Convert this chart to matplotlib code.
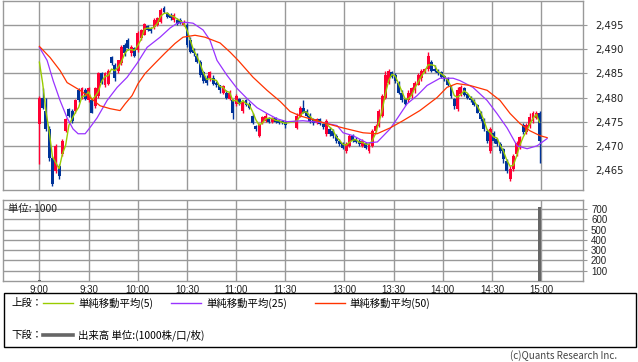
import numpy as np
import pandas as pd
import matplotlib
matplotlib.use("Agg")
import matplotlib.pyplot as plt
from matplotlib.patches import Rectangle

plt.rcParams['font.family'] = ['DejaVu Sans']

# ---------------- data ----------------
prev_closes = [2491.0, 2491.0]

am_open = [2474.6, 2480.0, 2477.3, 2473.5, 2467.5, 2464.8, 2465.8, 2468.3, 2473.1, 2477.7,
           2477.3, 2477.3, 2481.5, 2480.0, 2481.5, 2479.4, 2479.4, 2478.3, 2480.4, 2485.0,
           2482.5, 2482.9, 2488.3, 2486.7, 2485.6, 2487.1, 2490.8, 2491.9, 2489.2, 2490.2,
           2489.8, 2492.3, 2492.9, 2494.8, 2494.2, 2494.6, 2495.0, 2495.6, 2498.5, 2497.5,
           2497.1, 2496.0, 2496.0, 2496.0, 2495.0, 2495.0, 2491.9, 2489.8, 2488.7, 2487.3,
           2485.2, 2484.0, 2484.0, 2484.0, 2483.1, 2482.5, 2481.0, 2481.0, 2479.8, 2479.4,
           2478.7, 2479.8, 2477.3, 2479.4, 2478.7, 2476.2, 2474.2, 2472.1, 2474.8, 2475.2,
           2475.8, 2475.0, 2475.8, 2475.4, 2475.2, 2475.0]
am_close = [2480.0, 2477.9, 2473.5, 2467.5, 2462.1, 2470.0, 2463.7, 2471.0, 2475.6, 2476.2,
            2475.2, 2479.4, 2479.4, 2481.9, 2479.8, 2481.9, 2476.9, 2481.9, 2485.0, 2483.1,
            2485.0, 2485.6, 2487.1, 2484.0, 2487.7, 2490.4, 2489.2, 2490.2, 2490.4, 2488.7,
            2493.3, 2494.0, 2495.2, 2494.0, 2493.7, 2496.0, 2496.5, 2498.1, 2497.7, 2496.7,
            2496.5, 2497.1, 2495.2, 2495.4, 2495.6, 2490.8, 2489.4, 2489.2, 2487.3, 2484.6,
            2483.5, 2483.1, 2485.2, 2482.9, 2482.5, 2481.5, 2482.3, 2480.0, 2481.0, 2476.9,
            2480.4, 2478.7, 2479.0, 2478.5, 2477.9, 2474.8, 2473.5, 2474.6, 2476.0, 2476.2,
            2475.0, 2475.8, 2475.0, 2474.8, 2474.8, 2474.4]
am_high = [2480.4, 2481.9, 2480.0, 2474.2, 2467.9, 2470.4, 2466.2, 2471.5, 2475.8, 2477.9,
           2477.7, 2479.8, 2481.9, 2482.1, 2481.9, 2482.1, 2479.8, 2482.1, 2485.2, 2485.2,
           2485.2, 2486.0, 2488.7, 2487.1, 2487.7, 2490.8, 2491.2, 2492.3, 2490.8, 2490.4,
           2493.7, 2494.2, 2495.4, 2495.0, 2494.6, 2496.5, 2496.7, 2498.5, 2499.0, 2497.7,
           2497.5, 2497.5, 2496.5, 2496.5, 2496.0, 2495.4, 2492.5, 2490.2, 2489.2, 2487.7,
           2485.6, 2484.6, 2485.6, 2484.6, 2483.5, 2482.7, 2482.5, 2481.5, 2481.5, 2479.8,
           2480.8, 2480.0, 2479.4, 2479.8, 2479.0, 2476.7, 2474.4, 2474.8, 2476.2, 2476.7,
           2476.0, 2476.0, 2476.0, 2475.6, 2475.4, 2475.2]
am_low = [2466.2, 2477.7, 2473.1, 2466.9, 2461.7, 2464.4, 2463.1, 2467.9, 2472.9, 2476.0,
          2474.8, 2476.9, 2479.0, 2479.8, 2479.4, 2479.0, 2476.7, 2477.9, 2480.0, 2482.9,
          2482.1, 2482.5, 2486.7, 2483.5, 2485.0, 2486.7, 2488.7, 2489.8, 2488.7, 2488.3,
          2489.4, 2491.9, 2492.9, 2493.7, 2493.3, 2494.2, 2494.8, 2495.4, 2497.5, 2496.5,
          2496.0, 2495.6, 2495.0, 2495.2, 2494.8, 2490.4, 2489.2, 2488.7, 2487.1, 2484.2,
          2483.1, 2482.7, 2483.5, 2482.5, 2482.1, 2481.0, 2480.8, 2479.8, 2479.4, 2475.6,
          2478.3, 2478.5, 2476.9, 2478.3, 2477.7, 2474.6, 2473.1, 2471.9, 2474.6, 2475.0,
          2474.8, 2474.8, 2474.8, 2474.6, 2474.6, 2473.7]

pm_open = [2473.7, 2476.2, 2477.9, 2477.3, 2476.2, 2475.6, 2474.8, 2475.6, 2474.6, 2472.5,
           2473.5, 2473.1, 2472.1, 2471.0, 2470.6, 2469.0, 2470.0, 2472.1, 2471.5, 2471.0,
           2470.0, 2470.6, 2469.0, 2470.0, 2473.1, 2474.2, 2476.2, 2480.0, 2483.1, 2485.2,
           2484.6, 2483.1, 2481.0, 2479.8, 2479.4, 2480.4, 2481.5, 2482.7, 2484.0, 2485.2,
           2486.0, 2487.3, 2486.0, 2485.6, 2485.2, 2484.4, 2484.0, 2482.5, 2479.8, 2477.7,
           2480.8, 2481.9, 2480.8, 2480.0, 2479.4, 2478.5, 2476.9, 2475.6, 2473.1, 2469.0,
           2472.7, 2471.5, 2470.4, 2469.4, 2466.9, 2463.1, 2465.2, 2468.3, 2469.8, 2474.4,
           2472.9, 2474.2, 2475.2, 2475.8, 2476.7]
pm_close = [2476.2, 2477.9, 2476.9, 2476.2, 2475.2, 2474.8, 2475.6, 2474.6, 2474.0, 2475.2,
            2472.5, 2472.1, 2471.0, 2470.4, 2469.6, 2470.4, 2472.1, 2471.0, 2470.8, 2470.4,
            2471.0, 2469.6, 2470.4, 2473.1, 2474.2, 2477.3, 2480.4, 2484.6, 2485.6, 2484.2,
            2483.5, 2481.0, 2479.4, 2478.7, 2481.0, 2481.9, 2483.1, 2484.6, 2485.6, 2486.0,
            2488.7, 2485.6, 2485.6, 2485.0, 2484.2, 2484.0, 2482.5, 2480.4, 2478.3, 2481.5,
            2482.1, 2480.6, 2480.0, 2479.4, 2478.5, 2476.9, 2475.6, 2473.5, 2471.0, 2473.5,
            2471.0, 2470.4, 2469.0, 2467.3, 2464.8, 2465.2, 2467.9, 2470.6, 2471.9, 2472.9,
            2474.4, 2476.0, 2476.7, 2476.9, 2471.0]
pm_high = [2476.7, 2478.3, 2479.4, 2477.7, 2476.7, 2475.8, 2475.8, 2475.8, 2474.8, 2475.6,
           2474.0, 2473.5, 2472.5, 2471.5, 2470.8, 2470.8, 2472.5, 2472.5, 2471.9, 2471.5,
           2471.5, 2470.8, 2470.8, 2473.5, 2474.6, 2477.7, 2480.8, 2485.6, 2486.0, 2485.6,
           2485.0, 2483.5, 2481.5, 2480.0, 2481.5, 2482.1, 2483.5, 2485.0, 2486.0, 2486.2,
           2489.4, 2487.7, 2486.7, 2486.0, 2485.6, 2484.6, 2484.2, 2482.7, 2480.0, 2482.1,
           2482.5, 2482.1, 2481.0, 2480.4, 2479.8, 2478.7, 2477.3, 2475.8, 2473.5, 2474.0,
           2473.1, 2471.7, 2470.8, 2469.6, 2467.3, 2465.8, 2468.3, 2471.0, 2472.1, 2474.8,
           2474.8, 2476.7, 2477.3, 2477.3, 2477.3]
pm_low = [2473.5, 2476.0, 2476.7, 2476.0, 2474.8, 2474.4, 2474.6, 2474.4, 2473.5, 2472.1,
          2472.1, 2471.7, 2470.6, 2470.0, 2469.4, 2468.5, 2469.8, 2470.8, 2470.6, 2470.0,
          2469.8, 2469.4, 2468.5, 2469.8, 2472.9, 2474.0, 2476.0, 2479.8, 2482.9, 2484.0,
          2483.1, 2480.8, 2479.0, 2478.5, 2479.0, 2480.0, 2481.0, 2482.5, 2483.5, 2485.0,
          2485.6, 2485.2, 2485.2, 2484.6, 2484.0, 2483.5, 2482.3, 2480.0, 2477.7, 2477.3,
          2480.4, 2480.4, 2479.8, 2479.0, 2478.3, 2476.7, 2475.2, 2473.1, 2470.6, 2468.5,
          2470.6, 2470.0, 2468.5, 2466.5, 2464.4, 2462.7, 2464.8, 2467.9, 2469.4, 2472.5,
          2472.5, 2473.7, 2474.8, 2475.6, 2466.5]

# session time axis (minutes on a continuous trading-time scale, 9:00 = 0)
am_minutes = list(range(0, 151, 2))
pm_minutes = list(range(157, 306, 2))

# moving averages
ma25_t = [0, 4.7, 8.4, 12.6, 16.9, 20.5, 23.6, 27.9, 30.9, 35.2, 41.3, 47.4, 53.5, 59.6, 65.7,
          73.6, 79.7, 84.0, 88.8, 93.7, 99.8, 104.0, 108.3, 114.4, 120.5, 126.6, 132.7, 138.8,
          144.9, 151.0, 160.7, 172.9, 181.5, 185.2, 191.3, 199.8, 206.1, 213.8, 218.1, 224.2,
          230.3, 236.4, 244.3, 252.3, 256.5, 264.4, 273.0, 279.0, 285.2, 291.3, 297.4, 303.5, 309.6]
ma25_v = [2490.4, 2487.7, 2483.5, 2479.4, 2475.8, 2473.5, 2472.5, 2472.5, 2473.8, 2475.8,
          2479.4, 2482.1, 2484.2, 2487.1, 2490.4, 2492.5, 2494.4, 2495.4, 2495.6, 2495.4,
          2494.0, 2491.9, 2487.7, 2484.6, 2481.9, 2479.8, 2477.9, 2476.7, 2475.6, 2475.0,
          2475.2, 2474.8, 2474.2, 2472.7, 2472.1, 2470.6, 2470.8, 2473.5, 2475.6, 2478.7,
          2480.4, 2482.5, 2484.0, 2484.0, 2483.5, 2482.1, 2479.4, 2476.7, 2473.7, 2470.0,
          2469.4, 2470.0, 2471.5]
ma50_t = [0, 6.5, 12.6, 16.9, 24.8, 30.9, 37.0, 43.1, 49.2, 52.3, 56.5, 60.2, 64.5, 70.5, 76.6,
          82.7, 87.6, 94.9, 101.0, 110.2, 116.3, 121.2, 130.3, 138.8, 146.8, 152.9, 159.0,
          173.0, 185.2, 197.4, 205.9, 213.8, 221.7, 232.0, 242.5, 248.5, 254.6, 262.6, 273.0,
          280.9, 287.0, 293.1, 299.2, 305.3, 309.6]
ma50_v = [2490.6, 2488.3, 2485.6, 2483.1, 2481.5, 2480.0, 2478.3, 2477.7, 2477.3, 2478.7,
          2480.4, 2482.9, 2485.0, 2487.1, 2489.2, 2491.2, 2492.5, 2492.9, 2492.5, 2491.3,
          2489.4, 2487.7, 2484.2, 2481.5, 2479.2, 2477.1, 2476.2, 2474.8, 2473.7, 2472.7,
          2472.5, 2473.7, 2475.2, 2477.3, 2480.0, 2482.1, 2482.9, 2482.5, 2481.5, 2479.4,
          2476.7, 2474.6, 2473.1, 2472.1, 2471.7]

vol_minutes = [0, 305]
vol_values = [10, 720]

tick_minutes = [0, 30, 60, 90, 120, 150, 186, 216, 246, 276, 306]
tick_labels = ["9:00", "9:30", "10:00", "10:30", "11:00", "11:30",
               "13:00", "13:30", "14:00", "14:30", "15:00"]
price_ticks = [2465, 2470, 2475, 2480, 2485, 2490, 2495]
vol_ticks = [100, 200, 300, 400, 500, 600, 700]

legend_labels = ["単純移動平均(5)", "単純移動平均(25)", "単純移動平均(50)"]

# ---------------- styling ----------------
UP = '#FF0033'
DOWN = '#003399'
C_MA5 = '#99CC00'
C_MA25 = '#9933FF'
C_MA50 = '#FF3300'
GRID = '#999999'
CJK = ['Noto Sans CJK JP', 'DejaVu Sans']

W, H = 638, 362
fig = plt.figure(figsize=(W / 100, H / 100), dpi=100)


def rect(l, t, r, b):
    return [l / W, 1 - b / H, (r - l) / W, (b - t) / H]


ax = fig.add_axes(rect(3.3, 0.5, 582.7, 190))
axv = fig.add_axes(rect(3.3, 200, 582.7, 281))

df = pd.DataFrame({
    't': am_minutes + pm_minutes,
    'o': am_open + pm_open,
    'c': am_close + pm_close,
    'h': am_high + pm_high,
    'l': am_low + pm_low,
})
up = df['c'] >= df['o']
cols = np.where(up, UP, DOWN)

ax.vlines(df['t'], df['l'], df['h'], colors=cols, lw=1.0, zorder=3)
body_lo = np.minimum(df['o'], df['c'])
body_h = np.maximum(np.abs(df['c'] - df['o']), 0.3)
ax.bar(df['t'], body_h, bottom=body_lo, width=1.8, color=cols, lw=0, zorder=3)

all_c = pd.Series(prev_closes + list(df['c']))
ma5 = all_c.rolling(3).mean().iloc[len(prev_closes):].values
ax.plot(df['t'], ma5, color=C_MA5, lw=1.0, zorder=4)
ax.plot(ma25_t, ma25_v, color=C_MA25, lw=0.9, zorder=4)
ax.plot(ma50_t, ma50_v, color=C_MA50, lw=0.9, zorder=4)

xlim = (-22, 331.3)
ax.set_xlim(*xlim)
ax.set_ylim(2460.85, 2500.1)
ax.set_xticks(tick_minutes)
ax.set_yticks(price_ticks)
ax.set_yticklabels([f"{v:,}" for v in price_ticks])
ax.yaxis.tick_right()
ax.tick_params(axis='x', length=0, labelbottom=False)
ax.tick_params(axis='y', length=3, color=GRID, pad=6, labelsize=7.2, labelcolor='#222222')
ax.grid(True, color=GRID, lw=1.0, zorder=0)
ax.set_axisbelow(True)
for s in ax.spines.values():
    s.set_color(GRID)
    s.set_linewidth(1.0)

# volume
axv.bar(vol_minutes, vol_values, width=1.8, color='#666666', lw=0, zorder=3)
axv.set_xlim(*xlim)
axv.set_ylim(0, 790)
axv.set_xticks(tick_minutes)
axv.set_xticklabels(tick_labels, fontfamily='Liberation Sans', fontsize=7, color='#222222')
axv.set_yticks(vol_ticks)
axv.set_yticklabels([str(v) for v in vol_ticks], fontfamily='Liberation Sans', fontsize=7,
                    color='#222222')
axv.yaxis.tick_right()
axv.tick_params(axis='x', length=0, pad=3)
axv.tick_params(axis='y', length=3, color=GRID, pad=3)
axv.grid(True, color=GRID, lw=1.0, zorder=0)
axv.set_axisbelow(True)
for s in axv.spines.values():
    s.set_color(GRID)
    s.set_linewidth(1.0)
axv.text(0.008, 0.885, "単位: 1000", transform=axv.transAxes, ha='left', va='center',
         fontsize=7.5, family=CJK, color='#222222', zorder=1)

# legend / footer overlay in pixel coordinates
ov = fig.add_axes([0, 0, 1, 1], zorder=10)
ov.set_xlim(0, W)
ov.set_ylim(H, 0)
ov.axis('off')
ov.add_patch(Rectangle((3.5, 293), 632.5, 54, fill=False, ec='black', lw=1.0))
ty1, ty2 = 303, 335
ov.text(11, ty1, "上段：", family=CJK, fontsize=7.5, va='center', ha='left')
ov.plot([43, 73], [ty1, ty1], color=C_MA5, lw=1.0)
ov.text(78, ty1, legend_labels[0], family=CJK, fontsize=7.5, va='center', ha='left')
ov.plot([171, 201], [ty1, ty1], color=C_MA25, lw=1.0)
ov.text(206, ty1, legend_labels[1], family=CJK, fontsize=7.5, va='center', ha='left')
ov.plot([315, 345], [ty1, ty1], color=C_MA50, lw=1.0)
ov.text(349, ty1, legend_labels[2], family=CJK, fontsize=7.5, va='center', ha='left')
ov.text(11, ty2, "下段：", family=CJK, fontsize=7.5, va='center', ha='left')
ov.plot([43, 73], [ty2, ty2], color='#666666', lw=2.6)
ov.text(78, ty2, "出来高 単位:(1000株/口/枚)", family=CJK, fontsize=7.5, va='center', ha='left')
ov.text(617, 356, "(c)Quants Research Inc.", family=CJK, fontsize=7, va='center', ha='right',
        color='#444444')

fig.savefig("out.png", dpi=100)
